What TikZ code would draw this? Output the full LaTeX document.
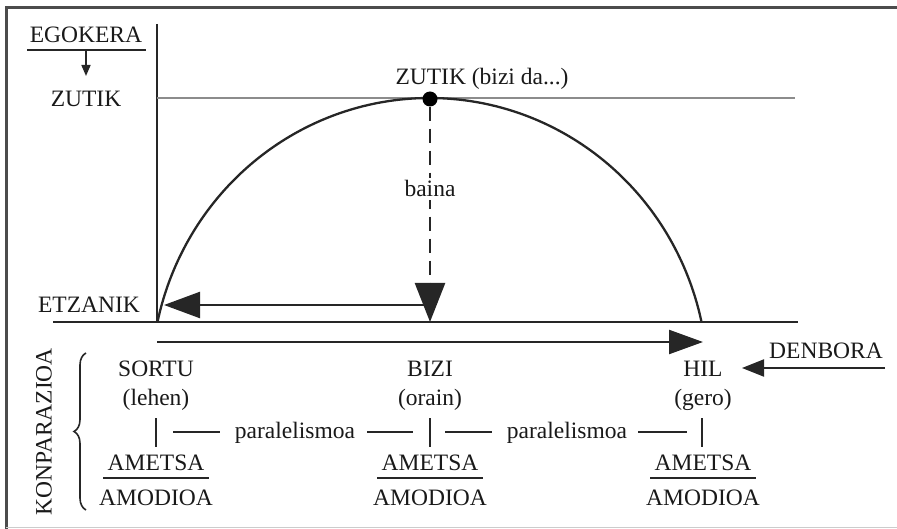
\documentclass[tikz,border=0pt]{standalone}
\usepackage{fontspec}
\setmainfont{Liberation Serif}
\usetikzlibrary{arrows.meta,decorations.pathreplacing}
\begin{document}
\begin{tikzpicture}[x=1pt,y=-1pt,
  lbl/.style={font=\fontsize{23.5}{25}\selectfont, inner sep=0pt, anchor=base, text=black!90},
  ln/.style={line width=2pt, draw=black!85},
  thinln/.style={line width=1.2pt, draw=black!45},
  framel/.style={line width=3pt, draw=black!70},
]
\useasboundingbox (0,0) rectangle (897,529);
% frame
\draw[framel] (6,529) -- (6,8) -- (897,8);
\draw[line width=1pt, draw=black!20] (6,527) -- (897,527);

% axes
\coordinate (ax0) at (157,322);
\coordinate (axtop) at (157,24);
\coordinate (bl) at (53,322);
\coordinate (br) at (798,322);
\draw[ln] (axtop) -- (ax0);
\draw[ln] (bl) -- (br);

% upper guide line
\coordinate (g0) at (157,98);
\coordinate (g1) at (795,98);
\draw[thinln] (g0) -- (g1);

% arc
\draw[line width=2.3pt, draw=black!85] plot[domain=12.2:167.8, samples=120, smooth] ({429.5+278.3*cos(\x)}, {382-284*sin(\x)});

% left labels
\node[lbl] (egokera) at (86,43) {EGOKERA};
\coordinate (eu0) at (27,50);
\coordinate (eu1) at (146,50);
\draw[ln] (eu0) -- (eu1);
\node[lbl] (zutikL) at (86,107) {ZUTIK};
\coordinate (ea0) at (86,51);
\coordinate (ea1) at (86,76);
\draw[line width=1.6pt, draw=black!85, -{Triangle[length=11pt,width=9pt]}] (ea0) -- (ea1);
\node[lbl] (etzanik) at (89,313) {ETZANIK};

% top point
\node[circle, fill=black, inner sep=0pt, minimum size=15pt] (dot) at (430,99) {};
\node[lbl] (zutikT) at (482,85) {ZUTIK (bizi da...)};
\coordinate (db) at (430,322);
\draw[line width=2.5pt, draw=black!85, dash pattern=on 14pt off 8pt, -{Triangle[length=39pt,width=30pt]}] (dot) -- (db);
\node[lbl, fill=white, inner ysep=3pt] (baina) at (430,197) {baina};

% left arrow
\coordinate (la0) at (430,305);
\coordinate (la1) at (164,305);
\draw[line width=2.4pt, draw=black!85, -{Triangle[length=36pt,width=26pt]}] (la0) -- (la1);

% lower arrow
\coordinate (ra0) at (157,342);
\coordinate (ra1) at (703,342);
\draw[line width=2.4pt, draw=black!85, -{Triangle[length=34pt,width=24pt]}] (ra0) -- (ra1);

% DENBORA
\node[lbl] (denbora) at (826,358) {DENBORA};
\coordinate (da0) at (885,368);
\coordinate (da1) at (742,368);
\draw[line width=2pt, draw=black!85, -{Triangle[length=22pt,width=17pt]}] (da0) -- (da1);

% columns
\node[lbl] (sortu) at (156,377) {SORTU};
\node[lbl] (lehen) at (156,405) {(lehen)};
\node[lbl] (bizi) at (430,377) {BIZI};
\node[lbl] (orain) at (430,405) {(orain)};
\node[lbl] (hil) at (703,377) {HIL};
\node[lbl] (gero) at (703,405) {(gero)};

\foreach \n/\x in {a/156,b/430,c/702}{
  \coordinate (t\n0) at (\x,418);
  \coordinate (t\n1) at (\x,447);
  \draw[ln] (t\n0) -- (t\n1);
}
\node[lbl] (par1) at (295,438) {paralelismoa};
\node[lbl] (par2) at (567,438) {paralelismoa};
\coordinate (d1a) at (173,432); \coordinate (d1b) at (220,432);
\coordinate (d2a) at (367,432); \coordinate (d2b) at (413,432);
\coordinate (d3a) at (445,432); \coordinate (d3b) at (492,432);
\coordinate (d4a) at (638,432); \coordinate (d4b) at (687,432);
\draw[ln] (d1a) -- (d1b);
\draw[ln] (d2a) -- (d2b);
\draw[ln] (d3a) -- (d3b);
\draw[ln] (d4a) -- (d4b);

\foreach \n/\x in {a/156,b/430,c/703}{
  \node[lbl] (am\n) at (\x,470) {AMETSA};
  \node[lbl] (mo\n) at (\x,505) {AMODIOA};
  \coordinate (f\n0) at (\x-53,478);
  \coordinate (f\n1) at (\x+53,478);
  \draw[ln] (f\n0) -- (f\n1);
}

% KONPARAZIOA and brace
\node[font=\fontsize{23.5}{25}\selectfont, inner sep=0pt, text=black!90, rotate=90] (konp) at (44,432) {KONPARAZIOA};
\coordinate (br0) at (86,510);
\coordinate (br1) at (86,353);
\draw[line width=1.6pt, draw=black!85, decorate, decoration={brace, amplitude=12pt}] (br0) -- (br1);
\end{tikzpicture}
\end{document}
